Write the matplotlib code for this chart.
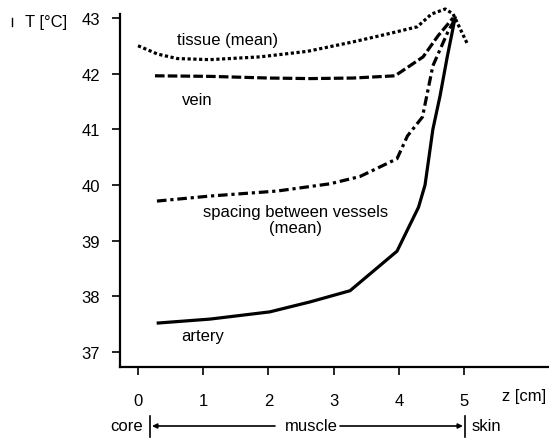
import matplotlib.pyplot as plt
from matplotlib.lines import Line2D

plt.rcParams['font.family'] = ['Liberation Sans', 'DejaVu Sans']

# depth z [cm] and temperature T [°C]
tissue_z = [0.0, 0.3, 0.6, 1.1, 1.87, 2.6, 3.3, 3.82, 4.28, 4.5, 4.71, 4.83, 5.05]
tissue_T = [42.5, 42.35, 42.27, 42.25, 42.3, 42.4, 42.57, 42.71, 42.84, 43.07, 43.16, 43.07, 42.53]

vein_z = [0.26, 1.1, 2.0, 2.64, 3.3, 3.94, 4.37, 4.6, 4.83]
vein_T = [41.96, 41.95, 41.92, 41.91, 41.92, 41.96, 42.3, 42.68, 43.0]

spacing_z = [0.29, 1.1, 2.13, 2.94, 3.4, 3.97, 4.13, 4.36, 4.52, 4.75, 4.86]
spacing_T = [39.71, 39.8, 39.89, 40.02, 40.15, 40.47, 40.88, 41.22, 42.14, 42.75, 42.98]

artery_z = [0.31, 1.1, 2.02, 2.64, 3.25, 3.97, 4.3, 4.4, 4.46, 4.52, 4.63, 4.74, 4.86]
artery_T = [37.52, 37.59, 37.72, 37.9, 38.1, 38.81, 39.6, 40.0, 40.5, 41.0, 41.6, 42.3, 43.0]

x_ticks = [0, 1, 2, 3, 4, 5]
y_ticks = [37, 38, 39, 40, 41, 42, 43]

W, H = 549, 439
fig = plt.figure(figsize=(W / 100, H / 100), dpi=100)
ax = fig.add_axes([119.5 / W, 1 - 368 / H, 1 - 119.5 / W, (368 - 15) / H])

lw = 2.3
ax.plot(tissue_z, tissue_T, color='black', lw=lw, linestyle=(0, (1, 0.8)),
        dash_capstyle='butt', clip_on=False)
ax.plot(vein_z, vein_T, color='black', lw=lw, linestyle=(0, (3, 1)), clip_on=False)
ax.plot(spacing_z, spacing_T, color='black', lw=lw, linestyle=(0, (3, 1.2, 1, 1.2)), clip_on=False)
ax.plot(artery_z, artery_T, color='black', lw=lw, solid_joinstyle='round', clip_on=False)

ax.set_xlim(-0.284, 6.30)
ax.set_ylim(36.73, 43.07)
ax.set_xticks(x_ticks)
ax.set_yticks(y_ticks)
ax.spines['top'].set_visible(False)
ax.spines['right'].set_visible(False)
for s in ['left', 'bottom']:
    ax.spines[s].set_linewidth(1.6)
ax.tick_params(axis='both', direction='out', length=6, width=1.2, labelsize=12)
ax.tick_params(axis='y', pad=8)
ax.tick_params(axis='x', pad=13)

# curve labels
fs = 12
ax.text(0.6, 42.62, 'tissue (mean)', fontsize=fs, va='center', ha='left')
ax.text(0.67, 41.54, 'vein', fontsize=fs, va='center', ha='left')
ax.text(2.41, 39.38, 'spacing between vessels\n(mean)', fontsize=fs, va='center',
        ha='center', linespacing=1.15)
ax.text(0.67, 37.29, 'artery', fontsize=fs, va='center', ha='left')

# axis titles and the core / muscle / skin bar, placed in figure pixels
def fy(y_img):
    return H - y_img

fig.text(25 / W, fy(22) / H, 'T [°C]', fontsize=fs, va='center', ha='left')
fig.add_artist(Line2D([12 / W, 12 / W], [fy(19) / H, fy(27) / H], color='black', lw=1))
fig.text(524 / W, fy(397) / H, 'z [cm]', fontsize=fs, va='center', ha='center')

fig.text(143 / W, fy(427) / H, 'core', fontsize=fs, va='center', ha='right')
fig.text(311 / W, fy(427) / H, 'muscle', fontsize=fs, va='center', ha='center')
fig.text(472 / W, fy(427) / H, 'skin', fontsize=fs, va='center', ha='left')
for xb in [150, 465]:
    fig.add_artist(Line2D([xb / W, xb / W], [fy(417) / H, fy(438) / H], color='black', lw=1.2))
ax.annotate('', xy=(152, fy(427)), xytext=(275, fy(427)), xycoords='figure pixels',
            arrowprops=dict(arrowstyle='-|>', color='black', lw=1.2, mutation_scale=7,
                            shrinkA=0, shrinkB=0))
ax.annotate('', xy=(463, fy(427)), xytext=(340, fy(427)), xycoords='figure pixels',
            arrowprops=dict(arrowstyle='-|>', color='black', lw=1.2, mutation_scale=7,
                            shrinkA=0, shrinkB=0))

fig.savefig('out.png', dpi=100)
